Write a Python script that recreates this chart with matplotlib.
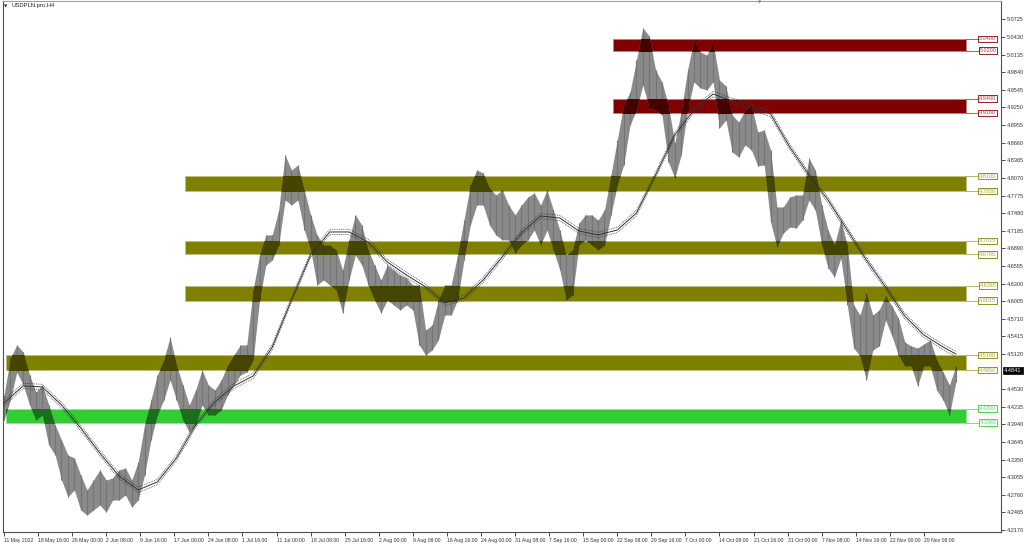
import matplotlib
matplotlib.use("Agg")
import matplotlib.pyplot as plt
import numpy as np
from matplotlib.collections import LineCollection
from matplotlib.patches import Rectangle
import matplotlib.transforms as mtransforms

# ---------------- data ----------------
title = "USDPLN.pro,H4"

# daily highs / lows (one entry per trading day, H4 chart)
highs = [4.4432, 4.5052, 4.5270, 4.5152, 4.4767, 4.4482, 4.4600, 4.4264, 4.3929, 4.3678,
         4.3426, 4.3376, 4.3091, 4.2840, 4.3007, 4.3175, 4.3007, 4.3041, 4.3175, 4.3208,
         4.3007, 4.3309, 4.3929, 4.4348, 4.4767, 4.5018, 4.5404, 4.4935, 4.4600, 4.4264,
         4.4516, 4.4851, 4.4600, 4.4516, 4.4683, 4.4935, 4.5102, 4.5270, 4.5270, 4.6192,
         4.6778, 4.7114, 4.7114, 4.7532, 4.8454, 4.8203, 4.8287, 4.7868, 4.7449, 4.7114,
         4.6946, 4.6946, 4.6862, 4.6527, 4.7030, 4.7449, 4.7281, 4.6862, 4.6611, 4.6359,
         4.6611, 4.6527, 4.6443, 4.6393, 4.6275, 4.6275, 4.5521, 4.5605, 4.6024, 4.6275,
         4.6275, 4.6778, 4.7365, 4.7951, 4.8203, 4.8152, 4.7901, 4.7784, 4.7868, 4.7616,
         4.7449, 4.7616, 4.7750, 4.7817, 4.7616, 4.7868, 4.7532, 4.7197, 4.6778, 4.6862,
         4.7314, 4.7449, 4.7449, 4.7365, 4.7532, 4.8119, 4.8706, 4.9292, 4.9510, 5.0046,
         5.0583, 5.0449, 4.9879, 4.9678, 4.9292, 4.8655, 4.9175, 4.9879, 5.0382, 5.0180,
         5.0130, 5.0348, 4.9711, 4.9611, 4.9125, 4.9007, 4.9208, 4.9292, 4.8840, 4.8873,
         4.8538, 4.7583, 4.7583, 4.7750, 4.7784, 4.7784, 4.8404, 4.8203, 4.7616, 4.7197,
         4.6946, 4.7365, 4.6946, 4.5940, 4.5773, 4.6141, 4.5773, 4.5856, 4.6091, 4.5923,
         4.5722, 4.5320, 4.5253, 4.5219, 4.5286, 4.5354, 4.5018, 4.4817, 4.4600, 4.4918]

lows = [4.4013, 4.4348, 4.4817, 4.4600, 4.4264, 4.4013, 4.4097, 4.3594, 4.3426, 4.3007,
        4.2723, 4.2840, 4.2504, 4.2420, 4.2504, 4.2588, 4.2471, 4.2672, 4.2672, 4.2756,
        4.2555, 4.2672, 4.3091, 4.3678, 4.4097, 4.4348, 4.4683, 4.4348, 4.4013, 4.3811,
        4.3929, 4.4264, 4.4097, 4.4097, 4.4180, 4.4432, 4.4600, 4.4767, 4.4817, 4.5018,
        4.6024, 4.6611, 4.6694, 4.6946, 4.7700, 4.7616, 4.7700, 4.7197, 4.6862, 4.6275,
        4.6359, 4.6275, 4.6192, 4.5806, 4.6359, 4.6778, 4.6611, 4.6275, 4.6024, 4.5806,
        4.6024, 4.5940, 4.5856, 4.5940, 4.5856, 4.5270, 4.5102, 4.5186, 4.5354, 4.5773,
        4.5773, 4.6024, 4.6694, 4.7281, 4.7616, 4.7616, 4.7281, 4.7114, 4.7030, 4.7030,
        4.6812, 4.6946, 4.7030, 4.7197, 4.6946, 4.7197, 4.6862, 4.6527, 4.6024, 4.6108,
        4.6946, 4.7030, 4.6946, 4.6862, 4.6946, 4.7449, 4.7951, 4.8287, 4.8957, 4.9208,
        4.9627, 4.9242, 4.9208, 4.9125, 4.8337, 4.8069, 4.8454, 4.9208, 4.9678, 4.9577,
        4.9544, 4.9678, 4.8907, 4.9041, 4.8504, 4.8420, 4.8622, 4.8538, 4.8270, 4.8287,
        4.7331, 4.6912, 4.7147, 4.7247, 4.7230, 4.7365, 4.7700, 4.7532, 4.6946, 4.6560,
        4.6409, 4.6728, 4.5940, 4.5219, 4.5085, 4.4683, 4.5186, 4.5253, 4.5688, 4.5421,
        4.5102, 4.4918, 4.4918, 4.4583, 4.4918, 4.4918, 4.4516, 4.4348, 4.4097, 4.4649]

# moving average (read every 3 trading days)
ma_days = [0, 3, 6, 9, 12, 15, 18, 21, 24, 27, 30, 33, 36, 39, 42, 45, 48, 51, 54, 57,
           60, 63, 66, 69, 72, 75, 78, 81, 84, 87, 90, 93, 96, 99, 102, 105, 108, 111,
           114, 117, 120, 123, 126, 129, 132, 135, 138, 141, 144, 147, 149]
ma_vals = [4.4298, 4.4583, 4.4566, 4.4264, 4.3879, 4.3459, 4.3074, 4.2840, 4.2974, 4.3376,
           4.3929, 4.4314, 4.4583, 4.4750, 4.5236, 4.6024, 4.6778, 4.7164, 4.7164, 4.6996,
           4.6661, 4.6443, 4.6242, 4.5974, 4.6057, 4.6359, 4.6745, 4.7147, 4.7432, 4.7398,
           4.7180, 4.7114, 4.7197, 4.7482, 4.8119, 4.8789, 4.9208, 4.9476, 4.9359, 4.9259,
           4.9141, 4.8588, 4.8119, 4.7700, 4.7197, 4.6694, 4.6242, 4.5756, 4.5437, 4.5236,
           4.5119]

last_price = "4.4841"

# support / resistance zones
zone_top = [5.0400, 4.9400, 4.8100, 4.7015, 4.6265, 4.5100, 4.4200]
zone_bottom = [5.0200, 4.9160, 4.7850, 4.6790, 4.6015, 4.4850, 4.3965]
zone_kind = ["red", "red", "olive", "olive", "olive", "olive", "green"]
zone_start = [95.3, 95.3, 28.3, 28.3, 28.3, 0.3, 0.3]
zone_end = 150.6

x_labels = ["11 May 2022", "18 May 16:00", "26 May 00:00", "2 Jun 08:00", "9 Jun 16:00",
            "17 Jun 00:00", "24 Jun 08:00", "1 Jul 16:00", "11 Jul 00:00", "18 Jul 08:00",
            "25 Jul 16:00", "2 Aug 00:00", "9 Aug 08:00", "16 Aug 16:00", "24 Aug 00:00",
            "31 Aug 08:00", "7 Sep 16:00", "15 Sep 00:00", "22 Sep 08:00", "29 Sep 16:00",
            "7 Oct 00:00", "14 Oct 08:00", "21 Oct 16:00", "31 Oct 00:00", "7 Nov 08:00",
            "14 Nov 16:00", "22 Nov 00:00", "29 Nov 08:00"]

y_labels = ["5.0725", "5.0430", "5.0135", "4.9840", "4.9545", "4.9250", "4.8955", "4.8660",
            "4.8365", "4.8070", "4.7775", "4.7480", "4.7185", "4.6890", "4.6595", "4.6300",
            "4.6005", "4.5710", "4.5415", "4.5120", "4.4530", "4.4235", "4.3940", "4.3645",
            "4.3350", "4.3055", "4.2760", "4.2465", "4.2170"]

# ---------------- style ----------------
FONT = ["Liberation Sans", "DejaVu Sans"]
BAR_COLOR = "#8a8a8a"
BAR_DARK = "#747474"
ZONE_FILL = {"red": "#800000", "olive": "#808000", "green": "#32cd32"}
ZONE_EDGE = {"red": "#c08080", "olive": "#c0c080", "green": "#98e698"}
ZONE_TEXT = {"red": "#b04040", "olive": "#a8a850", "green": "#60d860"}
ZONE_MULT = {"red": "#450000", "olive": "#454500", "green": "#1b6e1b"}
ENV = 0.0045
LABEL_STEP_DAYS = 32 / 6.0

plt.rcParams["font.family"] = FONT

W, H = 1024, 544
fig = plt.figure(figsize=(W / 100, H / 100), dpi=100)
fig.patch.set_facecolor("white")
ax = fig.add_axes([3 / W, 12 / H, 998 / W, 531 / H])
ax.set_xlim(-0.157, 156.07)
ax.set_ylim(4.2135, 5.1035)

days = np.arange(len(highs))
segs = [[(d, lo), (d, hi)] for d, lo, hi in zip(days, lows, highs)]


def draw_price(color, dark, z, clip=None):
    pc = ax.fill_between(days, lows, highs, color=color, lw=0, zorder=z)
    lc = LineCollection(segs, colors=dark, linewidths=0.8, zorder=z + 0.1,
                        capstyle="butt")
    ax.add_collection(lc)
    if clip is not None:
        pc.set_clip_path(clip)
        lc.set_clip_path(clip)


# zones
rects = []
for top, bot, kind, x0 in zip(zone_top, zone_bottom, zone_kind, zone_start):
    r = Rectangle((x0, bot), zone_end - x0, top - bot, facecolor=ZONE_FILL[kind],
                  edgecolor=ZONE_EDGE[kind], linewidth=0.7, zorder=1)
    ax.add_patch(r)
    rects.append((r, kind))

# price bars
draw_price(BAR_COLOR, BAR_DARK, 2)
# darker (multiplied) price where it crosses the zones
for r, kind in rects:
    clip = Rectangle(r.get_xy(), r.get_width(), r.get_height(), transform=ax.transData)
    draw_price(ZONE_MULT[kind], ZONE_MULT[kind], 2.5, clip)

# moving average with envelopes
ma = np.array(ma_vals)
ax.plot(ma_days, ma, color="#303030", lw=0.7, zorder=3)
ax.plot(ma_days, ma + ENV, color="#404040", lw=0.55, ls=(0, (1.2, 1.2)), zorder=3)
ax.plot(ma_days, ma - ENV, color="#404040", lw=0.55, ls=(0, (1.2, 1.2)), zorder=3)

# zone price labels
lab_x = 154.0
for top, bot, kind in zip(zone_top, zone_bottom, zone_kind):
    for p in (top, bot):
        ax.plot([150.6, 152.4], [p, p], color=ZONE_TEXT[kind], lw=0.6, zorder=4)
        ax.text(lab_x, p, f"{p:.4f}", fontsize=4, color=ZONE_TEXT[kind], ha="center",
                va="center", zorder=5,
                bbox=dict(boxstyle="square,pad=0.15", fc="white", ec=ZONE_FILL[kind], lw=0.6))

# axes styling
for s in ax.spines.values():
    s.set_color("#505050")
    s.set_linewidth(0.8)
ax.spines["top"].set_color("#a0a0a0")

ax.yaxis.tick_right()
ax.set_yticks([float(v) for v in y_labels])
ax.set_yticklabels(y_labels)
ax.tick_params(axis="y", direction="out", length=3, width=0.6, pad=1, labelsize=4,
               colors="#303030")

xt = [i * LABEL_STEP_DAYS for i in range(len(x_labels))]
ax.set_xticks(xt)
ax.set_xticklabels(x_labels)
for t in ax.get_xticklabels():
    t.set_horizontalalignment("left")
ax.tick_params(axis="x", direction="out", length=3, width=0.6, pad=1.5, labelsize=3.7,
               colors="#303030")

# current price label on the right axis
trans = mtransforms.blended_transform_factory(ax.transAxes, ax.transData)
ax.text(1.003, float(last_price), last_price, transform=trans, fontsize=4, color="white",
        ha="left", va="center", clip_on=False, zorder=6,
        bbox=dict(boxstyle="square,pad=0.2", fc="black", ec="black", lw=0.5))

# title with small triangle
fig.text(12 / W, 1 - 6 / H, title, fontsize=4.2, color="#202020", va="center", ha="left")
fig.text(6 / W, 1 - 6 / H, "\u25BC", fontsize=3, color="#202020", va="center", ha="center",
         family="DejaVu Sans")
fig.text(760 / W, 1 - 2 / H, "\u25BC", fontsize=3, color="#808080", va="center",
         ha="center", family="DejaVu Sans")

fig.savefig("out.png", dpi=100)
